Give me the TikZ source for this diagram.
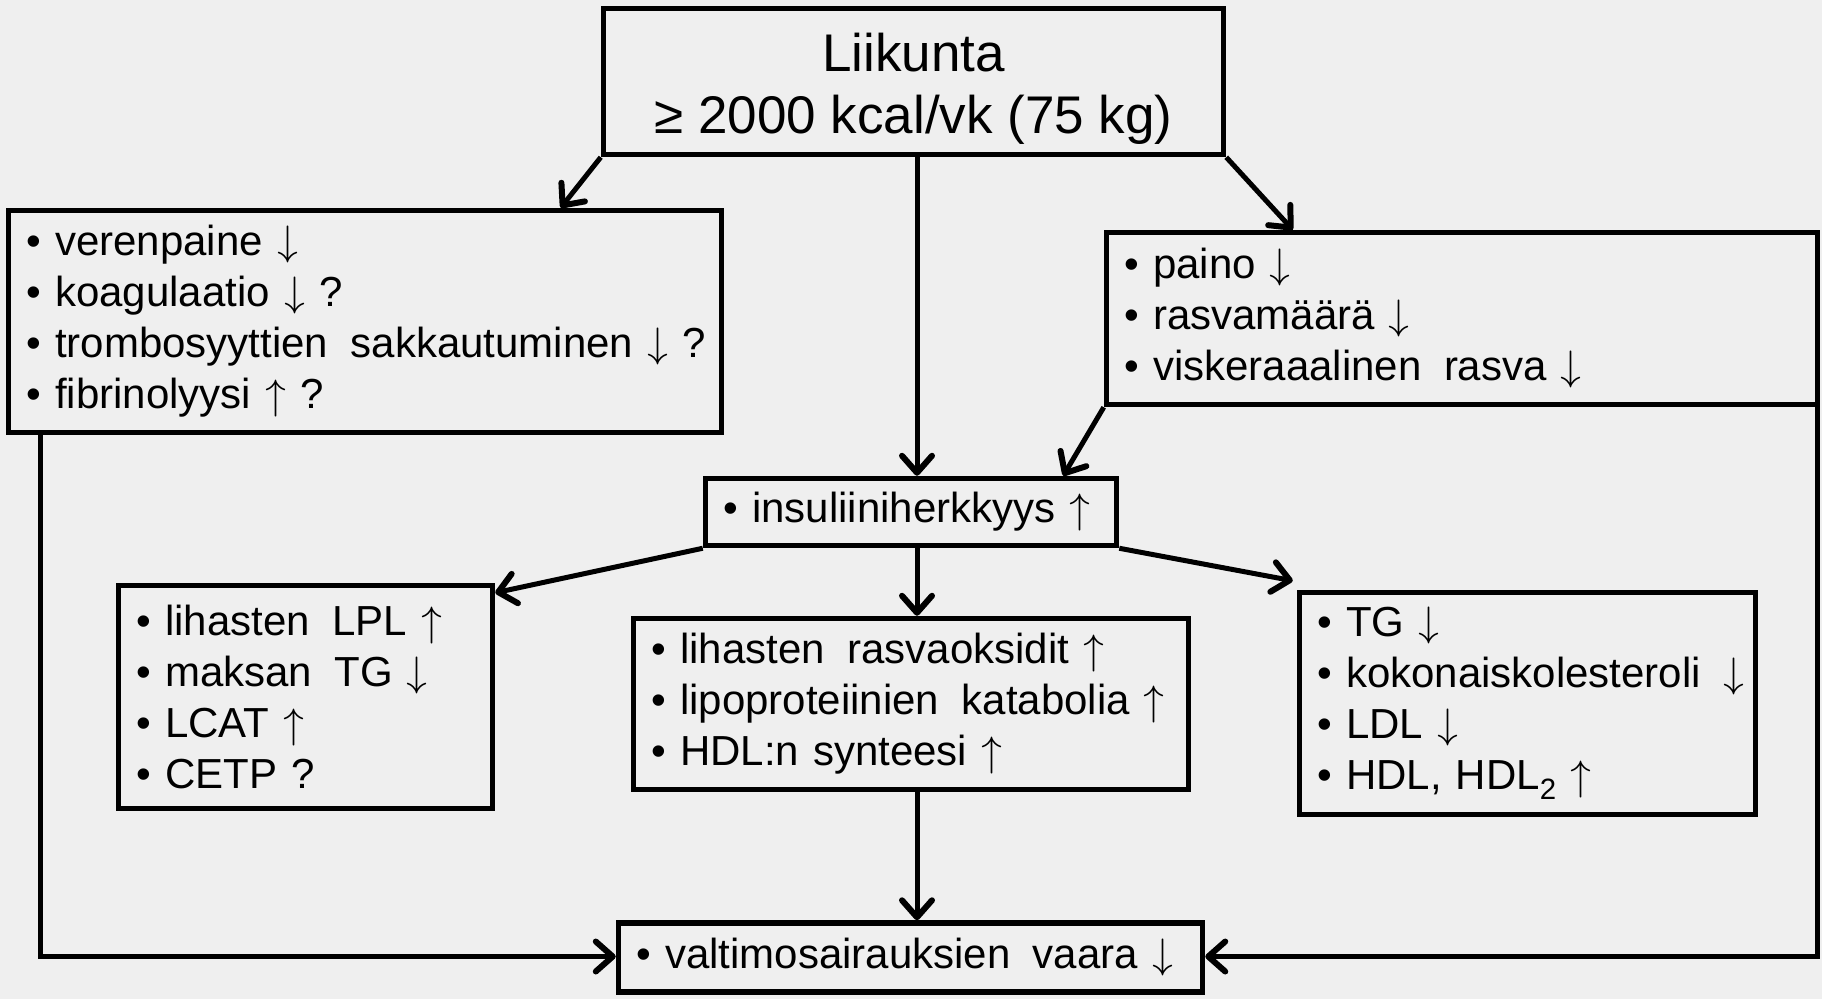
\documentclass[tikz,border=0pt]{standalone}
\usepackage{fontspec}
\usepackage{unicode-math}
\setmainfont{Liberation Sans}
\usetikzlibrary{arrows.meta,calc}
\newcommand\wsp{\hspace{0.2em}}
\newcommand\dnar{$\downarrow$}
\newcommand\upar{$\uparrow$}
\begin{document}
\begin{tikzpicture}[x=1pt,y=-1pt,
  box/.style={draw=black,line width=5.5pt,inner ysep=0pt,inner xsep=18pt,align=left,
     font=\fontsize{42}{51}\selectfont},
  topbox/.style={draw=black,line width=5.5pt,inner sep=0pt,align=center,
     font=\fontsize{53}{62}\selectfont},
  arr/.style={draw=black,line width=5pt,-{Straight Barb[length=17pt,width=30pt,round,line width=6pt]}}]
\definecolor{bgc}{RGB}{239,239,239}
\fill[bgc] (0,0) rectangle (1822,999);
\useasboundingbox (0,0) rectangle (1822,999);

\node[topbox,minimum width=620pt,minimum height=146pt] (T) at (913.5,81.5)
  {\begin{tabular}{@{}c@{}}\rule{0pt}{60pt}Liikunta\\≥ 2000 kcal/vk (75 kg)\end{tabular}};

\node[box,text width=677pt,minimum height=222pt] (L) at (365,321.5)
  {\mbox{• verenpaine \dnar}\\
   \mbox{• koagulaatio \dnar\ ?}\\
   \mbox{• trombosyyttien\wsp{} sakkautuminen \dnar\ ?}\\
   \mbox{• fibrinolyysi \upar\ ?}};

\node[box,text width=675pt,minimum height=172pt] (R) at (1462,318.5)
  {\mbox{• paino \dnar}\\
   \mbox{• rasvamäärä \dnar}\\
   \mbox{• viskeraaalinen\wsp{} rasva \dnar}};

\node[box,text width=375pt,minimum height=67pt] (I) at (911,512)
  {\mbox{• insuliiniherkkyys \upar}};

\node[box,text width=338pt,minimum height=223pt] (LL) at (305.5,697)
  {\mbox{• lihasten\wsp{} LPL \upar}\\
   \mbox{• maksan\wsp{} TG \dnar}\\
   \mbox{• LCAT \upar}\\
   \mbox{• CETP ?}};

\node[box,text width=519pt,minimum height=171pt] (M) at (911,704)
  {\mbox{• lihasten\wsp{} rasvaoksidit \upar}\\
   \mbox{• lipoproteiinien\wsp{} katabolia \upar}\\
   \mbox{• HDL:n synteesi \upar}};

\node[box,text width=420pt,minimum height=222pt] (RL) at (1527.5,703.5)
  {\mbox{• TG \dnar}\\
   \mbox{• kokonaiskolesteroli\wsp{} \dnar}\\
   \mbox{• LDL \dnar}\\
   \mbox{• HDL, HDL\textsubscript{2} \upar}};

\node[box,text width=548pt,minimum height=69pt] (B) at (910.5,957.5)
  {\mbox{• valtimosairauksien\wsp{} vaara \dnar}};

% connectors
\draw[arr] (T.south west) -- ([xshift=555pt]L.north west);
\draw[arr] ([xshift=3.5pt]T.south) -- ([xshift=3.5pt]T.south |- I.north);
\draw[arr] (T.south east) -- ([xshift=189pt]R.north west);
\draw[arr] (R.south west) -- ([xshift=-56pt]I.north east);
\draw[arr] (I.south west) -- ([yshift=-10pt]LL.north east);
\draw[arr] ([xshift=6pt]I.south) -- ([xshift=6pt]I.south |- M.north);
\draw[arr] (I.south east) -- ([shift={(-4pt,9pt)}]RL.north west);
\draw[arr] ([xshift=6pt]M.south) -- ([xshift=6pt]M.south |- B.north);
\draw[arr] ([xshift=35pt]L.south west) |- ([yshift=1pt]B.west);
\draw[arr] ([xshift=-3pt]R.south east) |- ([yshift=1pt]B.east);
\end{tikzpicture}
\end{document}
